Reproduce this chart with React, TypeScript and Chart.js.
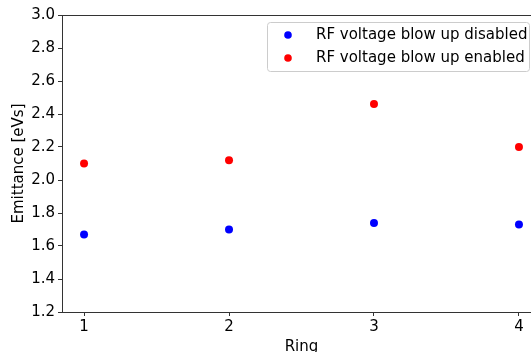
import React, { useEffect, useRef } from "react";
import { Chart, registerables } from "chart.js";

Chart.register(...registerables);

const rings = [1, 2, 3, 4];
const disabledValues = [1.67, 1.7, 1.74, 1.73];
const enabledValues = [2.1, 2.12, 2.46, 2.2];
const xTicks = [1, 2, 3, 4];
const yTicks = [1.2, 1.4, 1.6, 1.8, 2.0, 2.2, 2.4, 2.6, 2.8, 3.0];
const seriesLabels = ["RF voltage blow up disabled", "RF voltage blow up enabled"];
const seriesColors = ["#0000ff", "#ff0000"];

const FONT = "'DejaVu Sans', sans-serif";
const FS = 15;

const framePlugin = {
  id: "frame",
  afterDraw(chart: any) {
    const { ctx, chartArea } = chart;
    ctx.save();
    ctx.strokeStyle = "#333";
    ctx.lineWidth = 1;
    ctx.beginPath();
    ctx.moveTo(chartArea.left, chartArea.top + 0.5);
    ctx.lineTo(chartArea.right, chartArea.top + 0.5);
    ctx.moveTo(chartArea.right - 0.5, chartArea.top);
    ctx.lineTo(chartArea.right - 0.5, chartArea.bottom);
    ctx.stroke();
    ctx.restore();
  },
};

const legendPlugin = {
  id: "boxLegend",
  afterDraw(chart: any) {
    const { ctx } = chart;
    const x = 267.5, y = 22.5, w = 262, h = 49, r = 3;
    ctx.save();
    ctx.beginPath();
    ctx.moveTo(x + r, y);
    ctx.lineTo(x + w - r, y);
    ctx.arcTo(x + w, y, x + w, y + r, r);
    ctx.lineTo(x + w, y + h - r);
    ctx.arcTo(x + w, y + h, x + w - r, y + h, r);
    ctx.lineTo(x + r, y + h);
    ctx.arcTo(x, y + h, x, y + h - r, r);
    ctx.lineTo(x, y + r);
    ctx.arcTo(x, y, x + r, y, r);
    ctx.closePath();
    ctx.fillStyle = "rgba(255,255,255,0.8)";
    ctx.fill();
    ctx.strokeStyle = "#cccccc";
    ctx.lineWidth = 1;
    ctx.stroke();
    chart.data.datasets.forEach((ds: any, i: number) => {
      const cy = 35 + i * 23;
      ctx.beginPath();
      ctx.arc(288, cy, 3.8, 0, Math.PI * 2);
      ctx.fillStyle = ds.backgroundColor;
      ctx.fill();
      ctx.fillStyle = "#000";
      ctx.font = `${FS}px ${FONT}`;
      ctx.textBaseline = "middle";
      ctx.textAlign = "left";
      ctx.fillText(ds.label, 316, cy);
    });
    ctx.restore();
  },
};

export default function App() {
  const ref = useRef<HTMLCanvasElement>(null);
  useEffect(() => {
    if (!ref.current) return;
    const datasets = [disabledValues, enabledValues].map((vals, i) => ({
      label: seriesLabels[i],
      data: rings.map((r, j) => ({ x: r, y: vals[j] })),
      backgroundColor: seriesColors[i],
      borderColor: seriesColors[i],
      borderWidth: 0,
      pointRadius: 4,
    }));
    const chart = new Chart(ref.current, {
      type: "scatter",
      data: { datasets },
      plugins: [framePlugin, legendPlugin],
      options: {
        animation: false,
        responsive: false,
        maintainAspectRatio: false,
        layout: { padding: { top: 15, right: 19, left: 0, bottom: 0 } },
        plugins: { legend: { display: false }, tooltip: { enabled: false } },
        scales: {
          x: {
            type: "linear",
            min: 0.848,
            max: 4.152,
            afterBuildTicks: (s: any) => {
              s.ticks = xTicks.map((v) => ({ value: v }));
            },
            afterFit: (s: any) => {
              s.height = 40;
            },
            ticks: {
              color: "#000",
              font: { family: FONT, size: FS },
              padding: 2,
              callback: (v: any) => String(v),
              maxRotation: 0,
              autoSkip: false,
            },
            grid: { drawOnChartArea: false, tickLength: 4, tickColor: "#333", tickWidth: 1 },
            border: { color: "#333", width: 1 },
            title: {
              display: true,
              text: "Ring",
              color: "#000",
              font: { family: FONT, size: FS, lineHeight: 1 },
              padding: { top: 0, bottom: -3 },
            },
          },
          y: {
            type: "linear",
            min: 1.2,
            max: 3.0,
            afterBuildTicks: (s: any) => {
              s.ticks = yTicks.map((v) => ({ value: v }));
            },
            afterFit: (s: any) => {
              s.width = 62;
            },
            ticks: {
              color: "#000",
              font: { family: FONT, size: FS },
              padding: 3,
              callback: (v: any) => Number(v).toFixed(1),
              autoSkip: false,
            },
            grid: { drawOnChartArea: false, tickLength: 4, tickColor: "#333", tickWidth: 1 },
            border: { color: "#333", width: 1 },
            title: {
              display: true,
              text: "Emittance [eVs]",
              color: "#000",
              font: { family: FONT, size: FS, lineHeight: 1 },
              padding: { top: 12, bottom: 0 },
            },
          },
        },
      },
    });
    return () => chart.destroy();
  }, []);
  return (
    <div
      style={{
        position: "fixed",
        left: 0,
        top: 0,
        width: 531,
        height: 352,
        overflow: "hidden",
        background: "#fff",
      }}
    >
      <canvas ref={ref} width={560} height={352} style={{ width: 560, height: 352, display: "block" }} />
    </div>
  );
}
